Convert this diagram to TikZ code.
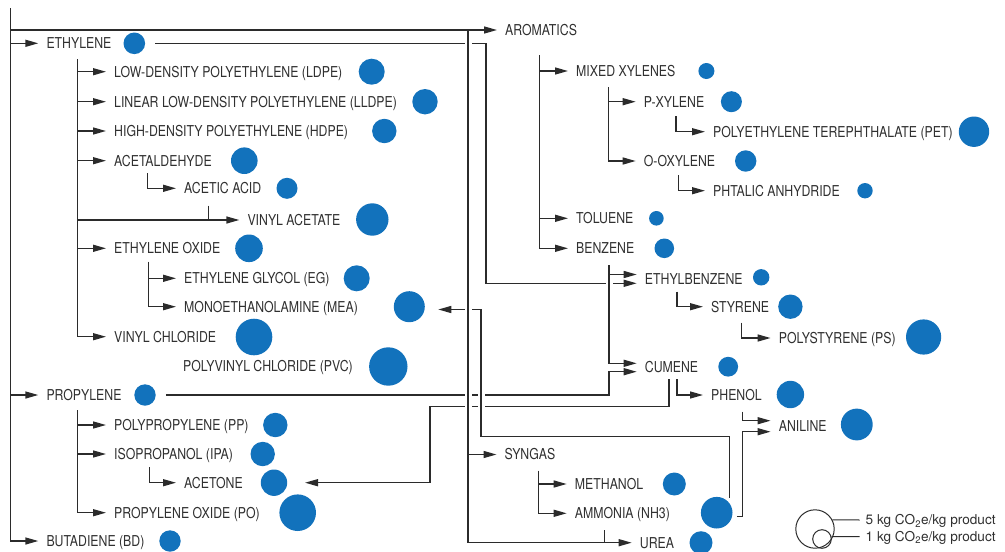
\documentclass[tikz,border=0pt]{standalone}
\usepackage{fontspec}
\setmainfont[FakeStretch=0.82]{TeX Gyre Heros}
\newfontfamily\legendfont{TeX Gyre Heros}
\usepackage{xcolor}
\usetikzlibrary{arrows.meta,calc}
\definecolor{dotblue}{HTML}{1272BC}
\definecolor{linegray}{HTML}{2B2B2B}
\definecolor{textgray}{HTML}{303030}
\tikzset{%
	lbl/.style     = {anchor=west, inner xsep=8pt, inner ysep=0pt, text height=10.8pt, text depth=0pt, text=textgray, font=\fontsize{15}{17}\selectfont},
	dot/.style     = {circle, fill=dotblue, inner sep=0pt, minimum size=#1},
	link/.style    = {draw=linegray, line width=1.4pt},
	arrow/.style   = {link, -{Triangle[length=13pt,width=7pt]}},
	gap/.style     = {preaction={draw=white, line width=7pt}},
	legtext/.style = {anchor=west, inner xsep=6pt, inner ysep=0pt, text height=9.8pt, text depth=0pt, text=textgray, font=\legendfont\fontsize{13.6}{15}\selectfont},
}

\begin{document}
\begin{tikzpicture}[x=1pt,y=-1pt]
	\useasboundingbox (0,0) rectangle (1005,552);
	% product names
	\foreach \nm/\x/\y/\txt in {
		ethylene/38.3/43.3/ETHYLENE, propylene/38.3/395/PROPYLENE, butadiene/38.3/541/BUTADIENE (BD),
		aromatics/497/30/AROMATICS, syngas/496.5/454.5/SYNGAS,
		ldpe/106/71.7/LOW-DENSITY POLYETHYLENE (LDPE), lldpe/106/101.7/LINEAR LOW-DENSITY POLYETHYLENE (LLDPE),
		hdpe/106/131/HIGH-DENSITY POLYETHYLENE (HDPE), acetald/106/160.7/ACETALDEHYDE,
		acetic/176/188.3/ACETIC ACID, vinylac/239.3/220/VINYL ACETATE, eo/106/248.3/ETHYLENE OXIDE,
		eg/176/278.3/ETHYLENE GLYCOL (EG), mea/176/306.7/MONOETHANOLAMINE (MEA),
		vinylchl/106/336.7/VINYL CHLORIDE, pvc/175/366/POLYVINYL CHLORIDE (PVC),
		pp/106/425/POLYPROPYLENE (PP), ipa/106/454/ISOPROPANOL (IPA), acetone/176/482.7/ACETONE,
		po/106/512.7/PROPYLENE OXIDE (PO),
		xylenes/568/71/MIXED XYLENES, pxylene/635.7/101.7/P-XYLENE, pet/705/131.7/POLYETHYLENE TEREPHTHALATE (PET),
		oxylene/635.7/161/O-OXYLENE, phtalic/705/190.7/PHTALIC ANHYDRIDE, toluene/568/218.3/TOLUENE,
		benzene/568/248.3/BENZENE, ethylbz/636.7/278.9/ETHYLBENZENE, styrene/703/306.7/STYRENE,
		ps/770.6/338/POLYSTYRENE (PS), cumene/636.7/367.5/CUMENE, phenol/703/395/PHENOL,
		aniline/770.6/426.2/ANILINE, methanol/566.7/484/METHANOL, ammonia/566.7/513.3/AMMONIA (NH3),
		urea/631.7/542.7/UREA}
		\node[lbl] (\nm) at (\x,\y) {\txt};
	% bubbles
	\foreach \nm/\x/\y/\dm in {
		ethylene/134.3/43.3/21.6, propylene/145/395/21.4, butadiene/170/541/21.4,
		ldpe/371.7/71.7/26, lldpe/425/101.7/25.4, hdpe/384.3/131/24.4, acetald/244.3/160.7/26.6,
		acetic/287/188.3/21, vinylac/372.3/219.5/32.4, eo/249/248.3/27.6, eg/356.7/278.3/26,
		mea/409.3/306.7/31, vinylchl/254/337/36.6, pvc/388.3/366.5/38.4,
		pp/275.3/425/24.4, ipa/262.7/454/24.4, acetone/274/482.7/26.4, po/297.7/512.7/36.6,
		xylenes/706.4/71/16, pxylene/731.4/101.7/21, pet/974/131.7/30.4, oxylene/745.7/161/21.4,
		phtalic/865/190.7/15.4, toluene/656.4/218.3/14.6, benzene/664.3/248.3/19.6,
		ethylbz/761.2/277.3/16.4, styrene/790.4/306.7/24.4, ps/923.6/337/35.2, cumene/728.2/366.7/19.8,
		phenol/790.4/394.5/27.4, aniline/856.8/424.5/31.8,
		methanol/674.3/484/23, ammonia/716.7/512.7/31.6, urea/701/542.7/23}
		\node[dot=\dm pt] (d\nm) at (\x,\y) {};
	% double inputs
	\coordinate (ebUp) at ([yshift=4.4pt]ethylbz.west);
	\coordinate (ebLow) at ([yshift=-4.4pt]ethylbz.west);
	\coordinate (cumUp) at ([yshift=4.2pt]cumene.west);
	\coordinate (cumLow) at ([yshift=-4.2pt]cumene.west);
	\coordinate (anUp) at ([yshift=5.5pt]aniline.west);
	\coordinate (anLow) at ([yshift=-5.5pt]aniline.west);

	% main trunk
	\coordinate (tMain) at (10.7,8.3);
	\draw[arrow] (tMain) |- (butadiene.west);
	\foreach \ch in {ethylene,propylene} \draw[arrow] (tMain |- \ch.west) -- (\ch.west);

	% ethylene
	\coordinate (tEth) at (77.7,59.3);
	\draw[arrow] (tEth) |- (vinylchl.west);
	\foreach \ch in {ldpe,lldpe,hdpe,acetald,vinylac,eo} \draw[arrow] (tEth |- \ch.west) -- (\ch.west);
	\coordinate (tAcet) at (147.7,173.3);
	\draw[arrow] (tAcet) |- (acetic.west);
	\coordinate (tVinAc) at (208.3,205.7);
	\draw[link] (tVinAc) -- (tVinAc |- vinylac.west);
	\coordinate (tEO) at (148.3,261.7);
	\draw[arrow] (tEO) |- (mea.west);
	\draw[arrow] (tEO |- eg.west) -- (eg.west);

	% propylene
	\coordinate (tProp) at (77.7,410);
	\draw[arrow] (tProp) |- (po.west);
	\foreach \ch in {pp,ipa} \draw[arrow] (tProp |- \ch.west) -- (\ch.west);
	\coordinate (tAcetone) at (149.3,467.3);
	\draw[arrow] (tAcetone) |- (acetone.west);

	% aromatics
	\coordinate (tArom) at (539.3,55);
	\draw[arrow] (tArom) |- (benzene.west);
	\foreach \ch in {xylenes,toluene} \draw[arrow] (tArom |- \ch.west) -- (\ch.west);
	\coordinate (tXyl) at (608.2,87);
	\draw[arrow] (tXyl) |- (oxylene.west);
	\draw[arrow] (tXyl |- pxylene.west) -- (pxylene.west);
	\coordinate (tPet) at (676,116);
	\draw[arrow] (tPet) |- (pet.west);
	\coordinate (tPht) at (678.6,175);
	\draw[arrow] (tPht) |- (phtalic.west);
	\coordinate (tSty) at (676.9,291.7);
	\draw[arrow] (tSty) |- (styrene.west);
	\coordinate (tPs) at (741.7,322.7);
	\draw[arrow] (tPs) |- (ps.west);
	\coordinate (tPhen) at (676.9,379.3);
	\draw[arrow] (tPhen) |- (phenol.west);
	\coordinate (tAnil) at (742.5,411.7);
	\draw[arrow] (tAnil) |- (anUp);

	% syngas
	\coordinate (tSyn) at (538.3,470.7);
	\draw[arrow] (tSyn) |- (ammonia.west);
	\draw[arrow] (tSyn |- methanol.west) -- (methanol.west);

	% long links (crossings leave a gap in the horizontal line)
	\coordinate (jEth) at (486,43.3);
	\draw[arrow] ([xshift=10pt]dethylene.east) -- (jEth) |- (ebLow);
	\coordinate (jProp) at (609,395);
	\draw[arrow] ([xshift=10pt]dpropylene.east) -- (jProp) |- (cumLow);
	\coordinate (tCum) at (669,379.3);
	\coordinate (jCum) at (430,406.7);
	\coordinate (acIn) at (305,482.7);
	\draw[arrow] (tCum) |- (jCum) |- (acIn);
	\coordinate (tAmm) at (729.3,498);
	\coordinate (jAmm) at (481,436.7);
	\coordinate (meaIn) at (438.3,309.5);
	\draw[link, gap] (jAmm) -- (jAmm |- meaIn);
	\draw[arrow] (tAmm) |- (jAmm) |- (meaIn);
	\coordinate (tBenz) at (609,265);
	\draw[link, gap] (tBenz) -- (tBenz |- cumUp);
	\draw[arrow] (tBenz) |- (cumUp);
	\draw[arrow] (tBenz |- ebUp) -- (ebUp);
	\coordinate (tSyn0) at (468,30);
	\draw[link, gap] (tSyn0) -- (tSyn0 |- urea.west);
	\draw[arrow] (tSyn0) |- (urea.west);
	\draw[arrow] (tSyn0 |- syngas.west) -- (syngas.west);
	\draw[arrow] (tMain |- aromatics.west) -- (aromatics.west);
	\coordinate (tUrea) at (604.3,530);
	\draw[link] (tUrea) -- (tUrea |- urea.west);
	\coordinate (tAmmAn) at (736.8,516.7);
	\draw[arrow] (tAmmAn) -- (tAmmAn -| tAnil) |- (anLow);

	% legend
	\node[circle, draw=linegray, line width=1pt, inner sep=0pt, minimum size=38.4pt] (lgBig) at (815,529) {};
	\node[circle, draw=linegray, line width=1pt, inner sep=0pt, minimum size=18.6pt] (lgSmall) at (822,539) {};
	\node[legtext] (lgFive) at (859.5,520) {5 kg CO\textsubscript{2}e/kg product};
	\node[legtext] (lgOne) at (859.5,536.7) {1 kg CO\textsubscript{2}e/kg product};
	\draw[linegray, line width=1pt] (lgBig.28) -- (lgFive.west);
	\draw[linegray, line width=1pt] (lgSmall.14) -- (lgOne.west);
\end{tikzpicture}
\end{document}
